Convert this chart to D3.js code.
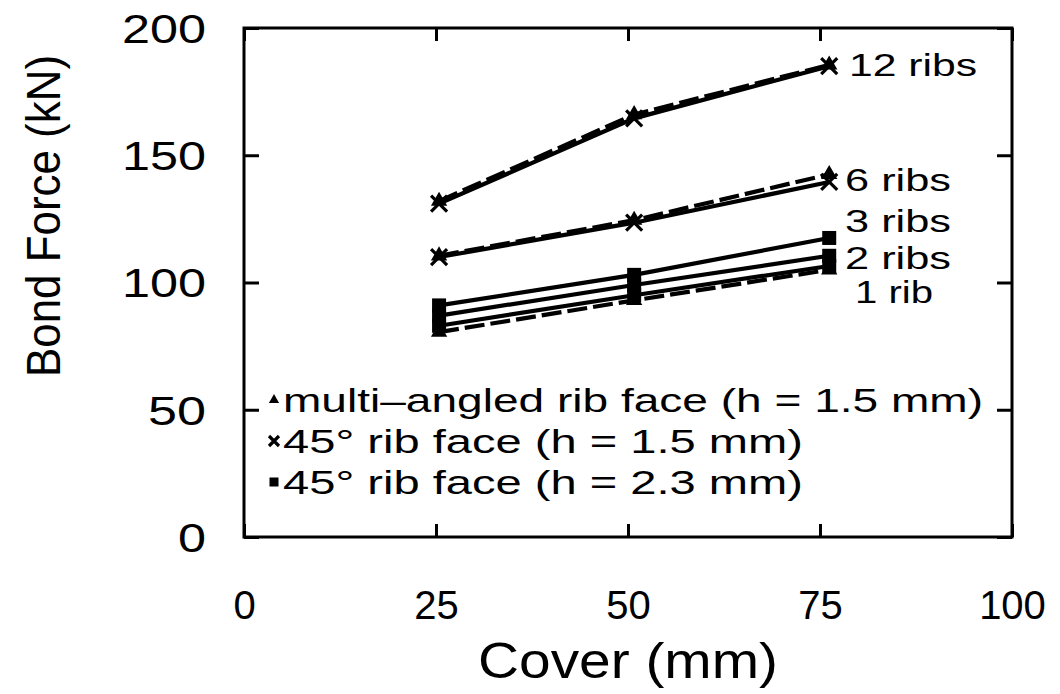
<!DOCTYPE html>
<html><head><meta charset="utf-8">
<script src="https://cdn.jsdelivr.net/npm/d3@7"></script>
<style>html,body{margin:0;padding:0;background:#fff;}svg{display:block;}</style>
</head><body>
<svg id="chart" width="1060" height="694"></svg>
<script>
// ---- data ----
const cover = [25.4, 50.8, 76.2];
const xTicks = [0, 25, 50, 75, 100];
const yTicks = [0, 50, 100, 150, 200];
const ribs12Cross = [131, 164.5, 185];
const ribs12Tri = [132, 166, 185.5];
const ribs6Cross = [110, 123.5, 139.5];
const ribs6Tri = [110.5, 124.5, 142.5];
const ribs3Sq = [91, 103, 117.5];
const ribs2Sq = [87, 99, 110.5];
const ribs1Sq = [83, 95, 106.5];
const ribs1Tri = [80.5, 93, 105];
const ribLabels = ["12 ribs", "6 ribs", "3 ribs", "2 ribs", "1 rib"];
const ribLabelY = [185.5, 140.3, 124.5, 110, 96.3];
const legendLabels = ["multi\u2013angled rib face (h = 1.5 mm)", "45\u00b0 rib face (h = 1.5 mm)", "45\u00b0 rib face (h = 2.3 mm)"];
const legendSymbols = ["triangle", "cross", "square"];

const series = [
  {v: ribs12Tri, sym: "triangle", dash: true},
  {v: ribs12Cross, sym: "cross", dash: false},
  {v: ribs6Tri, sym: "triangle", dash: true},
  {v: ribs6Cross, sym: "cross", dash: false},
  {v: ribs1Tri, sym: "triangle", dash: true},
  {v: ribs1Sq, sym: "square", dash: false},
  {v: ribs2Sq, sym: "square", dash: false},
  {v: ribs3Sq, sym: "square", dash: false}
];

const svg = d3.select("#chart");
const L = 244, R = 1012, T = 28, B = 537;
const x = d3.scaleLinear().domain([0, 100]).range([L, R]);
const y = d3.scaleLinear().domain([0, 200]).range([B, T]);
const font = "'Liberation Sans', Arial, sans-serif";

// frame
svg.append("rect").attr("x", L).attr("y", T).attr("width", R - L).attr("height", B - T)
  .attr("fill", "none").attr("stroke", "#000").attr("stroke-width", 3);

// axes (ticks inward)
const xb = svg.append("g").attr("transform", `translate(0,${B})`)
  .call(d3.axisBottom(x).tickValues(xTicks).tickSize(-13).tickPadding(54).tickFormat(d3.format("d")));
const xt = svg.append("g").attr("transform", `translate(0,${T})`)
  .call(d3.axisTop(x).tickValues(xTicks).tickSize(-13).tickFormat(""));
const yl = svg.append("g").attr("transform", `translate(${L},0)`)
  .call(d3.axisLeft(y).tickValues(yTicks).tickSize(-15).tickPadding(38).tickFormat(d3.format("d")));
const yr = svg.append("g").attr("transform", `translate(${R},0)`)
  .call(d3.axisRight(y).tickValues(yTicks).tickSize(-15).tickFormat(""));
[xb, xt, yl, yr].forEach(g => {
  g.select(".domain").remove();
  g.selectAll(".tick line").attr("stroke", "#000").attr("stroke-width", 3);
});
xb.selectAll(".tick text").attr("font-family", font).attr("font-size", 40).attr("fill", "#000")
  .attr("dy", "0.71em");
yl.selectAll(".tick text").attr("font-family", font).attr("font-size", 40).attr("fill", "#000")
  .attr("dy", "0.36em")
  .each(function(d){
    const t = d3.select(this);
    const w = d === 0 ? 28 : (d === 50 ? 58 : 84);
    t.attr("textLength", w).attr("lengthAdjust", "spacingAndGlyphs");
  });

// axis titles
svg.append("text").attr("x", x(50)).attr("y", 678).attr("text-anchor", "middle")
  .attr("font-family", font).attr("font-size", 50).attr("textLength", 300)
  .attr("lengthAdjust", "spacingAndGlyphs").text("Cover (mm)");
svg.append("text").attr("transform", `translate(60,${(55 + 377) / 2}) rotate(-90)`)
  .attr("text-anchor", "middle").attr("font-family", font).attr("font-size", 48)
  .attr("textLength", 322).attr("lengthAdjust", "spacingAndGlyphs").text("Bond Force (kN)");

// symbols
function drawSym(g, sym, cx, cy, s) {
  if (sym === "triangle") {
    g.append("path").attr("d", d3.symbol(d3.symbolTriangle, s * s * 0.45)())
      .attr("transform", `translate(${cx},${cy})`).attr("fill", "#000");
  } else if (sym === "square") {
    g.append("rect").attr("x", cx - s / 2).attr("y", cy - s / 2).attr("width", s).attr("height", s)
      .attr("fill", "#000");
  } else {
    g.append("path").attr("d", `M${cx - s/2},${cy - s/2}L${cx + s/2},${cy + s/2}M${cx - s/2},${cy + s/2}L${cx + s/2},${cy - s/2}`)
      .attr("stroke", "#000").attr("stroke-width", 3.2).attr("fill", "none");
  }
}

const line = d3.line().x((d, i) => x(cover[i])).y(d => y(d));
const plot = svg.append("g");
series.forEach(s => {
  plot.append("path").attr("d", line(s.v)).attr("fill", "none").attr("stroke", "#000")
    .attr("stroke-width", 4.2).attr("stroke-dasharray", s.dash ? "20,6" : null);
});
series.forEach(s => {
  s.v.forEach((v, i) => {
    const sz = s.sym === "square" ? 14 : 16;
    drawSym(plot, s.sym, x(cover[i]), y(v), sz);
  });
});

// rib labels
ribLabels.forEach((t, i) => {
  const tx = i === 0 ? 849 : (i === 4 ? 855 : 845);
  const len = i === 0 ? 128 : (i === 4 ? 78 : 106);
  svg.append("text").attr("x", tx).attr("y", y(ribLabelY[i])).attr("dy", "0.36em")
    .attr("font-family", font).attr("font-size", 32).attr("textLength", len)
    .attr("lengthAdjust", "spacingAndGlyphs").text(t);
});

// legend
const legY = [400, 441, 482];
const legLen = [700, 520, 520];
legendLabels.forEach((t, i) => {
  drawSym(svg, legendSymbols[i], 274, legY[i], legendSymbols[i] === "square" ? 9 : 10);
  svg.append("text").attr("x", 283).attr("y", legY[i]).attr("dy", "0.36em")
    .attr("font-family", font).attr("font-size", 33).attr("textLength", legLen[i])
    .attr("lengthAdjust", "spacingAndGlyphs").text(t);
});
</script>
</body></html>
